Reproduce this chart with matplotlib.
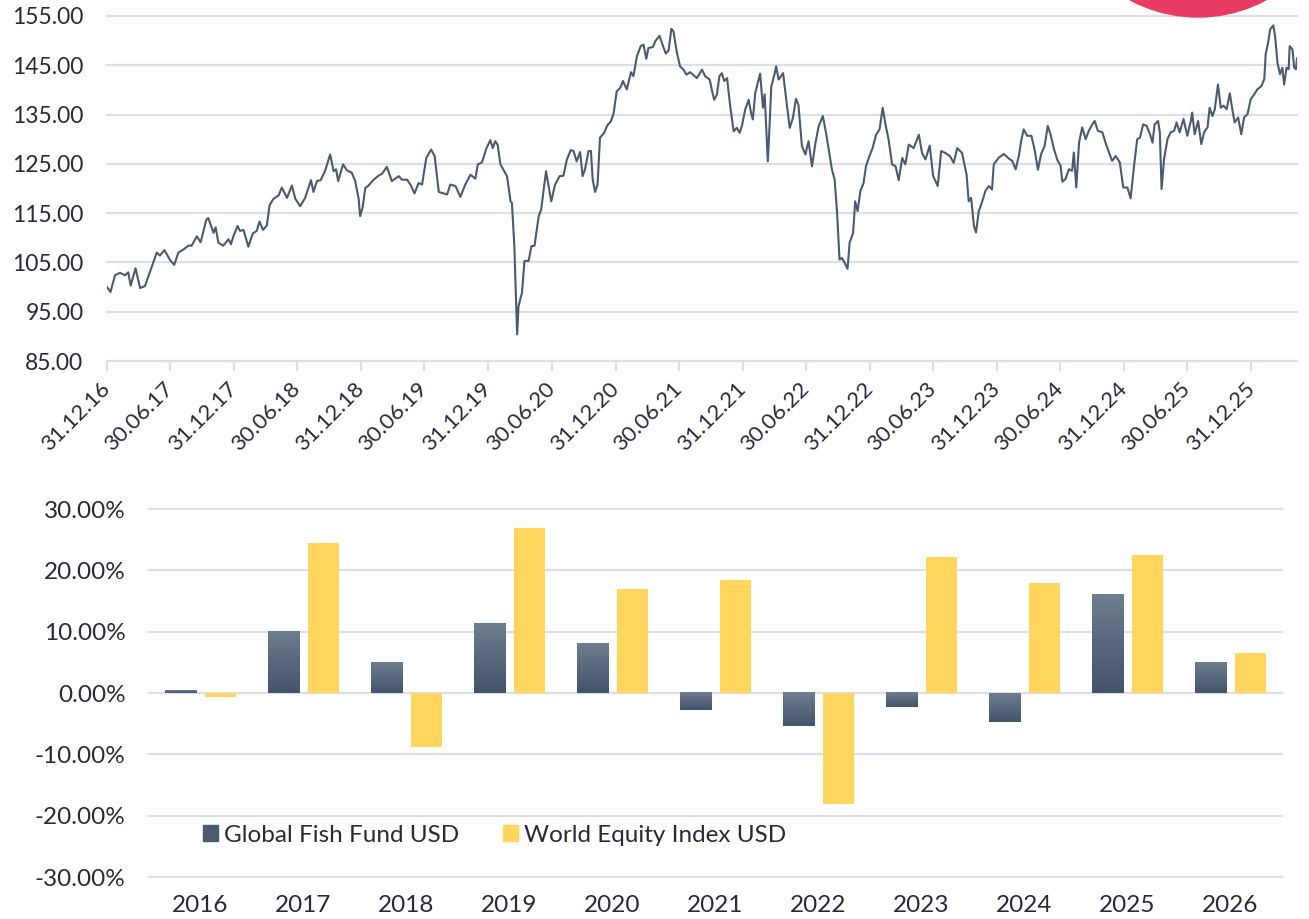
import matplotlib.pyplot as plt
import matplotlib.dates as mdates
from matplotlib.colors import LinearSegmentedColormap
from matplotlib.patches import Ellipse, Patch
from matplotlib.ticker import FuncFormatter
import numpy as np
import pandas as pd

plt.rcParams['font.family'] = ['Lato', 'DejaVu Sans']

# Fund price, indexed to 100 at 31.12.16
nav_dates = [
    '2016-12-31', '2017-01-10', '2017-01-23', '2017-02-06', '2017-02-21', '2017-03-02', '2017-03-09',
    '2017-03-23', '2017-04-05', '2017-04-19', '2017-05-04', '2017-05-23', '2017-06-01', '2017-06-14',
    '2017-06-30', '2017-07-12', '2017-07-24', '2017-08-07', '2017-08-22', '2017-08-31', '2017-09-15',
    '2017-09-26', '2017-10-12', '2017-10-18', '2017-11-02', '2017-11-08', '2017-11-16', '2017-11-30',
    '2017-12-15', '2017-12-22', '2017-12-29', '2018-01-10', '2018-01-17', '2018-01-27', '2018-02-10',
    '2018-02-23', '2018-03-06', '2018-03-14', '2018-03-24', '2018-04-04', '2018-04-12', '2018-04-23',
    '2018-05-08', '2018-05-17', '2018-06-01', '2018-06-15', '2018-06-25', '2018-07-09', '2018-07-23',
    '2018-08-09', '2018-08-16', '2018-08-26', '2018-09-06', '2018-09-19', '2018-10-03', '2018-10-13',
    '2018-10-20', '2018-10-26', '2018-11-09', '2018-11-20', '2018-12-04', '2018-12-14', '2018-12-24',
    '2018-12-28', '2019-01-04', '2019-01-12', '2019-01-21', '2019-02-05', '2019-02-19', '2019-03-01',
    '2019-03-15', '2019-03-29', '2019-04-18', '2019-04-27', '2019-05-12', '2019-05-23', '2019-06-02',
    '2019-06-14', '2019-06-24', '2019-07-06', '2019-07-20', '2019-07-30', '2019-08-11', '2019-08-20',
    '2019-09-04', '2019-09-13', '2019-09-28', '2019-10-12', '2019-10-26', '2019-11-10', '2019-11-24',
    '2019-12-01', '2019-12-13', '2019-12-26', '2020-01-06', '2020-01-13', '2020-01-20', '2020-01-27',
    '2020-02-04', '2020-02-23', '2020-03-04', '2020-03-08', '2020-03-15', '2020-03-23', '2020-03-27',
    '2020-04-06', '2020-04-13', '2020-04-25', '2020-05-03', '2020-05-12', '2020-05-24', '2020-05-31',
    '2020-06-14', '2020-06-29', '2020-07-10', '2020-07-23', '2020-08-03', '2020-08-13', '2020-08-24',
    '2020-09-01', '2020-09-10', '2020-09-20', '2020-09-27', '2020-10-04', '2020-10-14', '2020-10-21',
    '2020-10-26', '2020-11-02', '2020-11-09', '2020-11-16', '2020-11-28', '2020-12-07', '2020-12-17',
    '2020-12-25', '2021-01-03', '2021-01-13', '2021-01-21', '2021-02-01', '2021-02-13', '2021-02-20',
    '2021-03-02', '2021-03-13', '2021-03-21', '2021-03-29', '2021-04-04', '2021-04-17', '2021-04-24',
    '2021-05-06', '2021-05-16', '2021-05-24', '2021-06-01', '2021-06-09', '2021-06-15', '2021-06-25',
    '2021-07-04', '2021-07-14', '2021-07-22', '2021-08-02', '2021-08-21', '2021-09-05', '2021-09-14',
    '2021-09-27', '2021-10-03', '2021-10-10', '2021-10-18', '2021-10-25', '2021-11-01', '2021-11-08',
    '2021-11-16', '2021-11-25', '2021-12-05', '2021-12-14', '2021-12-22', '2021-12-29', '2022-01-07',
    '2022-01-17', '2022-01-24', '2022-01-29', '2022-02-05', '2022-02-12', '2022-02-19', '2022-02-27',
    '2022-03-04', '2022-03-13', '2022-03-18', '2022-03-23', '2022-04-01', '2022-04-06', '2022-04-13',
    '2022-04-26', '2022-05-05', '2022-05-15', '2022-05-24', '2022-06-02', '2022-06-09', '2022-06-19',
    '2022-06-29', '2022-07-08', '2022-07-18', '2022-07-28', '2022-08-06', '2022-08-18', '2022-08-28',
    '2022-09-07', '2022-09-13', '2022-09-21', '2022-09-28', '2022-10-05', '2022-10-12', '2022-10-22',
    '2022-10-28', '2022-11-03', '2022-11-13', '2022-11-19', '2022-11-26', '2022-12-04', '2022-12-13',
    '2022-12-20', '2022-12-30', '2023-01-08', '2023-01-18', '2023-01-28', '2023-02-06', '2023-02-14',
    '2023-02-23', '2023-03-05', '2023-03-15', '2023-03-24', '2023-04-03', '2023-04-12', '2023-04-22',
    '2023-05-06', '2023-05-21', '2023-05-30', '2023-06-09', '2023-06-21', '2023-07-01', '2023-07-14',
    '2023-07-24', '2023-08-05', '2023-08-18', '2023-08-29', '2023-09-08', '2023-09-22', '2023-10-05',
    '2023-10-11', '2023-10-18', '2023-10-26', '2023-11-01', '2023-11-09', '2023-11-19', '2023-11-28',
    '2023-12-08', '2023-12-17', '2023-12-22', '2024-01-06', '2024-01-20', '2024-02-03', '2024-02-13',
    '2024-02-23', '2024-03-03', '2024-03-10', '2024-03-17', '2024-03-27', '2024-04-08', '2024-04-17',
    '2024-04-27', '2024-05-06', '2024-05-16', '2024-05-25', '2024-06-02', '2024-06-12', '2024-06-21',
    '2024-07-01', '2024-07-06', '2024-07-15', '2024-07-25', '2024-08-03', '2024-08-08', '2024-08-15',
    '2024-08-23', '2024-09-01', '2024-09-11', '2024-09-20', '2024-09-30', '2024-10-07', '2024-10-16',
    '2024-10-29', '2024-11-07', '2024-11-17', '2024-11-26', '2024-12-06', '2024-12-18', '2024-12-28',
    '2025-01-09', '2025-01-18', '2025-01-28', '2025-02-06', '2025-02-14', '2025-02-23', '2025-03-05',
    '2025-03-15', '2025-03-22', '2025-03-28', '2025-04-07', '2025-04-12', '2025-04-17', '2025-04-24',
    '2025-05-04', '2025-05-13', '2025-05-23', '2025-05-30', '2025-06-08', '2025-06-19', '2025-06-30',
    '2025-07-10', '2025-07-14', '2025-07-21', '2025-07-31', '2025-08-09', '2025-08-17', '2025-08-27',
    '2025-09-02', '2025-09-10', '2025-09-17', '2025-09-26', '2025-10-04', '2025-10-12', '2025-10-21',
    '2025-10-30', '2025-11-07', '2025-11-13', '2025-11-23', '2025-12-02', '2025-12-10', '2025-12-20',
    '2025-12-29', '2026-01-08', '2026-01-17', '2026-01-29', '2026-02-06', '2026-02-10', '2026-02-17',
    '2026-02-23', '2026-03-04', '2026-03-09', '2026-03-16', '2026-03-23', '2026-03-30', '2026-04-04',
    '2026-04-11', '2026-04-17', '2026-04-20', '2026-04-28', '2026-05-03', '2026-05-08', '2026-05-11',
]
nav_values = [
    100.0, 99.0, 102.4, 102.9, 102.4, 103.0, 100.3,
    103.8, 99.8, 100.2, 103.2, 107.0, 106.4, 107.5,
    105.5, 104.5, 107.0, 107.6, 108.4, 108.4, 110.3,
    109.1, 113.6, 114.0, 111.0, 112.1, 109.0, 108.4,
    109.7, 108.7, 110.3, 112.4, 111.4, 111.6, 108.2,
    110.9, 111.4, 113.3, 111.6, 112.5, 116.6, 117.9,
    118.6, 120.2, 118.1, 120.6, 117.9, 116.4, 118.1,
    121.7, 119.3, 121.5, 121.7, 123.7, 126.9, 123.5,
    123.9, 121.5, 124.9, 123.7, 123.2, 121.5, 117.8,
    114.4, 116.1, 120.1, 120.6, 121.8, 122.6, 123.0,
    124.4, 121.5, 122.5, 121.8, 121.8, 120.6, 119.0,
    121.1, 120.8, 126.2, 127.9, 126.6, 119.3, 119.1,
    118.8, 120.8, 120.5, 118.3, 120.8, 122.8, 122.0,
    124.9, 125.3, 128.2, 129.8, 128.2, 129.6, 128.9,
    124.9, 122.5, 117.4, 117.1, 108.3, 90.4, 96.1,
    98.9, 105.3, 105.3, 108.3, 108.4, 114.4, 115.7,
    123.5, 117.4, 120.8, 122.5, 122.6, 125.9, 127.8,
    127.6, 125.5, 127.4, 122.5, 123.9, 127.6, 127.6,
    121.8, 119.3, 120.8, 130.3, 131.3, 132.8, 133.6,
    135.2, 139.7, 140.4, 141.8, 140.1, 143.6, 142.8,
    146.8, 148.9, 149.2, 146.3, 148.5, 148.7, 149.9,
    151.0, 148.9, 147.4, 148.0, 152.4, 151.9, 147.5,
    144.8, 144.1, 143.1, 143.6, 142.4, 144.1, 142.8,
    142.1, 140.1, 138.0, 139.1, 142.8, 143.4, 141.8,
    142.4, 136.7, 131.6, 132.3, 131.3, 132.8, 136.0,
    138.0, 135.3, 134.0, 139.4, 141.4, 143.3, 136.4,
    139.1, 125.5, 132.6, 140.7, 143.1, 144.8, 142.1,
    143.4, 138.0, 132.3, 134.3, 138.2, 137.0, 128.6,
    126.9, 129.6, 124.5, 129.3, 132.6, 134.7, 131.0,
    126.6, 123.9, 121.8, 115.1, 105.6, 105.9, 104.6,
    103.7, 109.0, 111.0, 117.4, 115.4, 119.5, 121.1,
    124.5, 126.6, 128.2, 130.9, 132.0, 136.4, 133.0,
    129.9, 124.9, 124.5, 121.7, 126.2, 124.9, 128.9,
    128.2, 130.9, 127.2, 125.9, 128.7, 122.5, 120.5,
    127.6, 127.2, 126.6, 125.2, 128.2, 127.2, 122.8,
    117.4, 118.1, 112.4, 111.1, 115.4, 117.4, 119.5,
    120.5, 119.8, 124.9, 126.3, 127.0, 126.1, 125.6,
    123.9, 126.6, 129.7, 132.0, 130.7, 130.7, 128.0,
    123.8, 127.0, 128.6, 132.7, 131.0, 128.0, 125.9,
    124.6, 121.4, 121.9, 123.9, 123.6, 127.3, 120.2,
    129.3, 132.4, 130.0, 131.7, 133.0, 133.7, 131.7,
    131.4, 129.3, 127.3, 125.6, 126.6, 125.3, 120.2,
    120.2, 118.0, 124.6, 130.0, 130.3, 133.0, 132.7,
    131.0, 129.3, 133.0, 133.7, 131.4, 119.9, 125.9,
    130.0, 131.4, 131.7, 133.4, 131.4, 134.1, 130.7,
    133.7, 135.4, 131.0, 133.7, 129.0, 131.4, 132.4,
    136.4, 134.7, 136.1, 141.1, 136.4, 136.8, 136.1,
    139.3, 135.7, 133.4, 134.4, 131.0, 134.4, 135.1,
    138.1, 139.1, 140.1, 140.8, 142.2, 147.2, 149.6,
    152.3, 153.1, 150.9, 145.5, 143.2, 144.5, 141.1,
    144.5, 144.2, 148.9, 148.2, 144.5, 144.2, 146.4,
]

# half-year ticks on the price chart
tick_dates = ['2016-12-31', '2017-06-30', '2017-12-31', '2018-06-30', '2018-12-31', '2019-06-30',
              '2019-12-31', '2020-06-30', '2020-12-31', '2021-06-30', '2021-12-31', '2022-06-30',
              '2022-12-31', '2023-06-30', '2023-12-31', '2024-06-30', '2024-12-31', '2025-06-30',
              '2025-12-31']

# calendar year returns (%)
years = ['2016', '2017', '2018', '2019', '2020', '2021', '2022', '2023', '2024', '2025', '2026']
fund_returns = [0.4, 10.1, 4.9, 11.4, 8.0, -2.8, -5.4, -2.3, -4.7, 16.0, 4.9]
index_returns = [-0.6, 24.5, -8.8, 26.9, 17.0, 18.4, -18.1, 22.2, 17.9, 22.5, 6.5]
series_names = ['Global Fish Fund USD', 'World Equity Index USD']

# colours
TEXT = '#262a3b'
GRID = '#dcdfe9'
LINE = '#4a5a70'
FUND = '#4b5b71'
YELLOW = '#fed65e'
PINK = '#e83b62'

W, H = 1309, 919
fig = plt.figure(figsize=(W / 100, H / 100), dpi=100)

# ---- price chart ----
ax1 = fig.add_axes([107 / W, 1 - 361 / H, 1190 / W, 345 / H])
dates = pd.to_datetime(nav_dates)
ax1.plot(dates, nav_values, color=LINE, lw=1.5, zorder=3)
ax1.set_xlim(dates[0], dates[-1])
ax1.set_ylim(85, 155)
ax1.set_yticks(np.arange(85, 156, 10))
ax1.yaxis.set_major_formatter(FuncFormatter(lambda v, p: f'{v:.2f}'))
ax1.set_xticks(pd.to_datetime(tick_dates))
ax1.xaxis.set_major_formatter(mdates.DateFormatter('%d.%m.%y'))
ax1.grid(axis='y', color=GRID, lw=1.6)
for line in ax1.get_ygridlines():
    line.set_clip_on(False)
for s in ax1.spines.values():
    s.set_visible(False)
ax1.tick_params(axis='y', length=0, pad=17, labelsize=16.5, labelcolor=TEXT)
ax1.tick_params(axis='x', length=7, width=1.6, color=GRID, pad=11, labelsize=16, labelcolor=TEXT)
plt.setp(ax1.get_xticklabels(), rotation=45, ha='right', va='center', rotation_mode='anchor')

# ---- calendar year returns ----
ax2 = fig.add_axes([149 / W, 1 - 877 / H, 1133 / W, 368 / H])
x = np.arange(len(years))
fund_bars = ax2.bar(x - 0.194, fund_returns, width=0.31, color=FUND, zorder=3)
index_bars = ax2.bar(x + 0.194, index_returns, width=0.31, color=YELLOW, zorder=3)

# light-to-dark shading on the fund bars
fund_cmap = LinearSegmentedColormap.from_list('fund', ['#43536a', '#6e7d8f'])
grad = np.linspace(0, 1, 100).reshape(-1, 1)
for bar in fund_bars:
    x0, w = bar.get_x(), bar.get_width()
    y0, y1 = sorted([bar.get_y(), bar.get_y() + bar.get_height()])
    ax2.imshow(grad, extent=[x0, x0 + w, y0, y1], cmap=fund_cmap, origin='lower',
               aspect='auto', zorder=3.5)

ax2.set_xlim(-0.5, len(years) - 0.5)
ax2.set_ylim(-30, 30)
ax2.set_yticks(np.arange(-30, 31, 10))
ax2.yaxis.set_major_formatter(FuncFormatter(lambda v, p: f'{v:.2f}%'))
ax2.set_xticks(x, years)
ax2.grid(axis='y', color=GRID, lw=1.6)
ax2.grid(axis='x', visible=False)
for line in ax2.get_ygridlines():
    line.set_clip_on(False)
for s in ax2.spines.values():
    s.set_visible(False)
ax2.tick_params(axis='y', length=0, pad=17, labelsize=17.5, labelcolor=TEXT)
ax2.tick_params(axis='x', length=0, pad=13, labelsize=17.5, labelcolor=TEXT)

handles = [Patch(color=FUND), Patch(color=YELLOW)]
ax2.legend(handles, series_names, loc='center left', bbox_to_anchor=(0.048, 0.114), ncol=2,
           frameon=False, fontsize=17.5, labelcolor=TEXT, handlelength=0.6, handleheight=0.6,
           handletextpad=0.25, columnspacing=1.8, borderpad=0, borderaxespad=0)

# pink badge peeking in at the top
fig.add_artist(Ellipse((1198 / W, (H + 127) / H), 288 / W, 288 / H,
                       transform=fig.transFigure, color=PINK, zorder=10))

plt.savefig('out.png', dpi=100)
